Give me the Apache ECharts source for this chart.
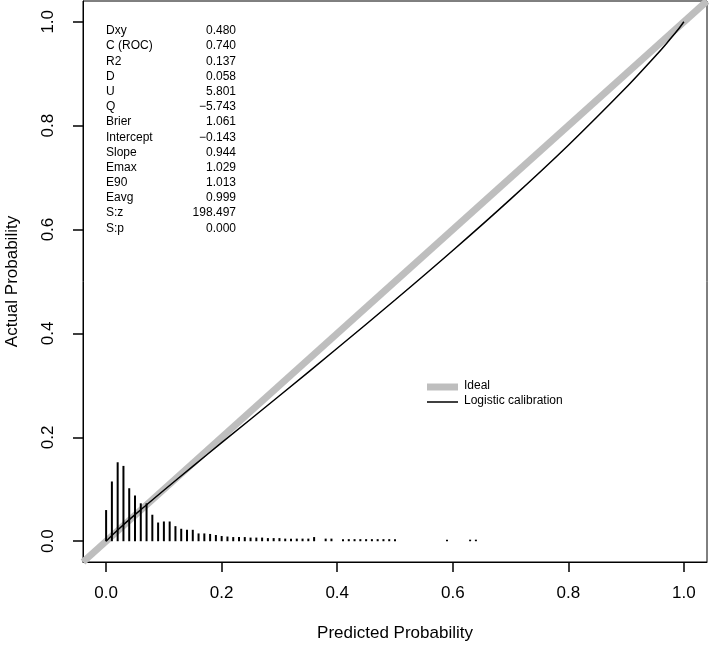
<!DOCTYPE html>
<html>
<head>
<meta charset="utf-8">
<script src="https://cdn.jsdelivr.net/npm/echarts@6/dist/echarts.min.js"></script>
<style>
html,body{margin:0;padding:0;background:#fff;}
#chart{width:709px;height:648px;}
</style>
</head>
<body>
<div id="chart"></div>
<script>
// ---- data ----
const tickValues = [0, 0.2, 0.4, 0.6, 0.8, 1.0];
const idealLine = [[-0.04, -0.04], [1.04, 1.04]];
const calibX = [0, 0.02, 0.05, 0.1, 0.15, 0.2, 0.3, 0.4, 0.5, 0.6, 0.7, 0.8, 0.9, 0.95, 0.97, 0.99, 1.0];
const calibY = [0, 0.0215, 0.0511, 0.0982, 0.144, 0.1897, 0.280, 0.3715, 0.4643, 0.5597, 0.6586, 0.7624, 0.8734, 0.9332, 0.9584, 0.985, 1.0];
const histX = [0.00, 0.01, 0.02, 0.03, 0.04, 0.05, 0.06, 0.07, 0.08, 0.09,
               0.10, 0.11, 0.12, 0.13, 0.14, 0.15, 0.16, 0.17, 0.18, 0.19,
               0.20, 0.21, 0.22, 0.23, 0.24, 0.25, 0.26, 0.27, 0.28, 0.29,
               0.30, 0.31, 0.32, 0.33, 0.34, 0.35, 0.36, 0.38, 0.39,
               0.41, 0.42, 0.43, 0.44, 0.45, 0.46, 0.47, 0.48, 0.49, 0.50,
               0.59, 0.63, 0.64];
const histH = [0.060, 0.115, 0.152, 0.145, 0.102, 0.088, 0.073, 0.073, 0.051, 0.036,
               0.038, 0.038, 0.029, 0.024, 0.022, 0.022, 0.015, 0.015, 0.014, 0.012,
               0.010, 0.009, 0.008, 0.008, 0.008, 0.007, 0.007, 0.007, 0.006, 0.006,
               0.006, 0.005, 0.005, 0.005, 0.005, 0.005, 0.008, 0.005, 0.005,
               0.004, 0.004, 0.004, 0.004, 0.004, 0.004, 0.004, 0.004, 0.004, 0.004,
               0.003, 0.003, 0.003];
const statLabels = ['Dxy', 'C (ROC)', 'R2', 'D', 'U', 'Q', 'Brier', 'Intercept', 'Slope', 'Emax', 'E90', 'Eavg', 'S:z', 'S:p'];
const statValues = ['0.480', '0.740', '0.137', '0.058', '5.801', '\u22125.743', '1.061', '\u22120.143', '0.944', '1.029', '1.013', '0.999', '198.497', '0.000'];
const legendNames = ['Ideal', 'Logistic calibration'];

// ---- chart ----
const FONT = '"Liberation Sans", Arial, Helvetica, sans-serif';
const chart = echarts.init(document.getElementById('chart'), null, {renderer: 'canvas'});

const calibData = calibX.map((x, i) => [x, calibY[i]]);
const histData = histX.map((x, i) => [x, histH[i]]);

const graphics = [];
statLabels.forEach((lab, i) => {
  const y = 32 + i * 15.17;
  graphics.push({type: 'text', left: 106, top: y - 7, z: 10,
    style: {text: lab, font: '12px ' + FONT, fill: '#000'}});
  graphics.push({type: 'text', right: 709 - 236, top: y - 7, z: 10,
    style: {text: statValues[i], font: '12px ' + FONT, fill: '#000', textAlign: 'right'}});
});
// legend
graphics.push({type: 'line', z: 10, shape: {x1: 427, y1: 387, x2: 458, y2: 387},
  style: {stroke: '#bebebe', lineWidth: 7}});
graphics.push({type: 'text', left: 464, top: 380, z: 10,
  style: {text: legendNames[0], font: '12px ' + FONT, fill: '#000'}});
graphics.push({type: 'line', z: 10, shape: {x1: 427, y1: 402, x2: 458, y2: 402},
  style: {stroke: '#000', lineWidth: 1.5}});
graphics.push({type: 'text', left: 464, top: 395, z: 10,
  style: {text: legendNames[1], font: '12px ' + FONT, fill: '#000'}});

const axisCommon = {
  type: 'value',
  min: -0.04, max: 1.04,
  splitLine: {show: false},
  axisLine: {show: true, onZero: false, lineStyle: {color: '#000', width: 1}},
  axisTick: {show: true, inside: false, length: 10, customValues: tickValues, lineStyle: {color: '#000', width: 1.5}},
  nameLocation: 'middle',
  nameTextStyle: {fontFamily: FONT, fontSize: 17, color: '#000'}
};

chart.setOption({
  animation: false,
  backgroundColor: '#fff',
  grid: {left: 83, right: 2, top: 1, bottom: 86, show: true, borderColor: '#000', borderWidth: 1,
    containLabel: false, outerBoundsMode: 'none'},
  xAxis: Object.assign({}, axisCommon, {
    name: 'Predicted Probability', nameGap: 63,
    axisLabel: {customValues: tickValues, margin: 23, fontFamily: FONT, fontSize: 17, color: '#000',
      formatter: v => v.toFixed(1)}
  }),
  yAxis: Object.assign({}, axisCommon, {
    name: 'Actual Probability', nameGap: 62,
    axisLabel: {customValues: tickValues, margin: 26, rotate: 90, fontFamily: FONT, fontSize: 17, color: '#000',
      formatter: v => v.toFixed(1)}
  }),
  graphic: graphics,
  series: [
    {type: 'line', name: legendNames[0], data: idealLine, symbol: 'none', clip: true, z: 1,
      lineStyle: {color: '#bebebe', width: 7}},
    {type: 'line', name: legendNames[1], data: calibData, symbol: 'none', smooth: 0.3, clip: true, z: 2,
      lineStyle: {color: '#000', width: 1.5}},
    {type: 'custom', name: 'hist', data: histData, z: 3, clip: true,
      renderItem: function (params, api) {
        const p0 = api.coord([api.value(0), 0]);
        const p1 = api.coord([api.value(0), api.value(1)]);
        return {type: 'line', shape: {x1: p0[0], y1: p0[1], x2: p1[0], y2: p1[1]},
          style: {stroke: '#000', lineWidth: 2}};
      }}
  ]
});
</script>
</body>
</html>
